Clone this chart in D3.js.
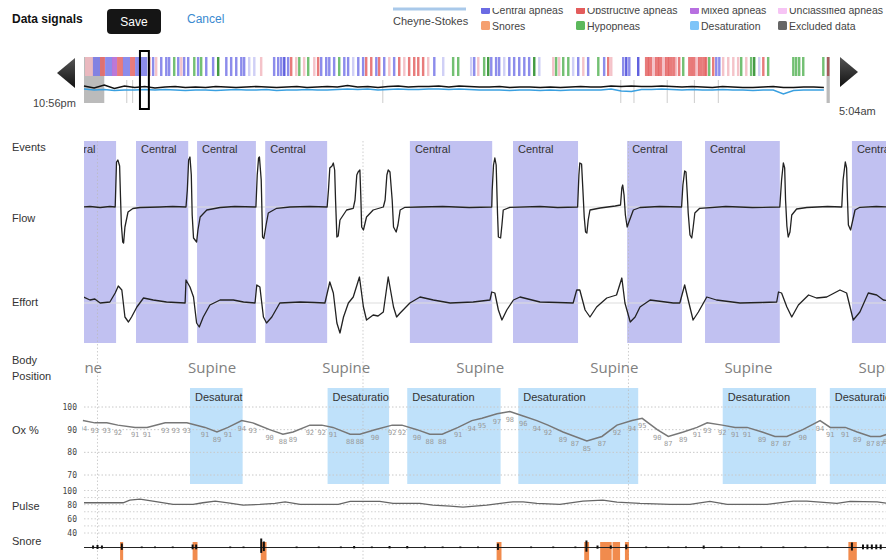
<!DOCTYPE html>
<html>
<head>
<meta charset="utf-8">
<script src="https://cdn.jsdelivr.net/npm/d3@7"></script>
<style>
  body { margin: 0; background: #fff; }
  svg { display: block; font-family: "Liberation Sans", Arial, sans-serif; }
</style>
</head>
<body>
<svg id="chart" width="886" height="560"></svg>
<script>
// ---------- data ----------
var legendTop = ["Central apneas", "Obstructive apneas", "Mixed apneas", "Unclassified apneas"];
var legendBottom = ["Snores", "Hypopneas", "Desaturation", "Excluded data"];
var rowLabels = ["Events", "Flow", "Effort", "Body", "Position", "Ox %", "Pulse", "Snore"];

// overview: minutes after 10:56pm, [start, type, length]
var ovEvents = [
  [0.5,"ol",4],[4.4,"c",3.5],[7.9,"o",2.5],[10.4,"c",3.5],[13.8,"m",2.5],[16.3,"o",3],[19.2,"c",3.5],[22.7,"o",2.5],[25.2,"c",6],
  [31.6,"o"],[33.5,"c"],[35,"ol"],[37.5,"c"],[40,"c"],[41.4,"c"],[43.9,"h"],[45.9,"c"],[47.4,"ol"],[48.8,"c"],[50.8,"c"],
  [53.8,"h"],[55.7,"c"],[57.2,"h"],[59.7,"c"],[63.1,"c"],[65.6,"hd"],[69.6,"c"],[72,"c"],[74.5,"c"],[77,"c"],[78.4,"c"],
  [80.9,"cl"],[83.4,"cl"],[86.8,"ol"],[93.2,"c"],[95.2,"c"],[96.7,"c"],[98.2,"cd"],[100.1,"c"],[101.6,"o"],[104.1,"ol"],
  [105.6,"h"],[108,"ol"],[110,"h"],[113,"ol"],[114.9,"o"],[116.4,"c"],[118.9,"c"],[120.4,"c"],[122.8,"c"],[125.3,"h"],
  [127.8,"c"],[129.7,"c"],[132.2,"cl"],[134.7,"c"],[137.1,"c"],[138.6,"o"],[141.1,"o"],[143.6,"c"],[145,"o"],[147.5,"c"],
  [150,"ol"],[152.4,"c"],[154.9,"o"],[157.4,"ol"],[159.8,"o"],[162.3,"o"],[164.3,"o"],[166.7,"o"],[169.2,"ol"],[172.2,"c"],
  [176.6,"cl"],[181.5,"h"],[184,"h"],[190.4,"cl"],[191.9,"c"],[193.9,"ol"],[196.8,"h"],[198.8,"hd"],[200.3,"c"],[202.7,"c"],
  [204.2,"c"],[206.7,"cl"],[209.2,"c"],[211.6,"c"],[214.1,"c"],[216.6,"c"],[219,"c"],[221.5,"hd"],[224,"cl"],[230.9,"ol"],
  [232.3,"h"],[233.8,"ol"],[235.8,"h"],[238.3,"h"],[240.7,"cl"],[243.2,"c"],[245.7,"ol"],[248.1,"c"],[253.1,"h"],[256,"c"],
  [258,"o"],[259.5,"ol"],[265.4,"c"],[266.9,"cd"],[268.4,"c"],[272.8,"cd"],[276.7,"o",2],[278.2,"o",2],[280.2,"ol",2],
  [281.7,"o",2],[283.2,"o",2],[285.1,"ol",2],[286.6,"o",2],[288.1,"o",2],[290.1,"o",2],[291.5,"ol"],[293,"o"],[295,"h"],
  [298,"o",2],[299.9,"o",2],[301.4,"ol",2],[302.9,"o",2],[304.9,"o",2],[306.3,"o"],[307.8,"h"],[309.8,"o"],[311.3,"c"],
  [312.8,"c"],[314.7,"ol"],[317.2,"ol"],[319.7,"ol"],[322.1,"ol"],[323.6,"h"],[326.1,"ol"],[328.5,"h"],[330,"hd"],
  [332.5,"cl"],[334.5,"o"],[336.9,"h"],[349.3,"h"],[350.7,"h"],[352.2,"h"],[354.2,"h"],[364.1,"h"],[366.5,"od"]
];
var ovExcluded = [[0, 10], [366.3, 1.6]];
var ovMarks = [21.1, 24, 147.4, 264.8, 271.3, 287.7, 301.1, 312.9];
var ovWindow = [27.6, 32];
// overview signal, one value every 5 minutes
var ovFlow = [1,-1,2,-1.5,1,-0.5,0.5,-1,0,0.5,-0.5,0,-0.5,0.5,0,-0.5,0,0.5,0,-0.5,0,0.5,-0.5,0,0.5,0,1.5,0,0.5,-0.5,0.5,1,0,0.5,0.5,1,0,1,0.5,0,0,0.5,-0.5,0,0,-0.5,0,-0.5,0,0.5,0,0,1,0.5,1,0.5,0.5,1,0.5,0,0.5,0,-0.5,0.5,0,-0.5,-0.5,0,0.5,-0.5,-0.5,0,0,-0.5];
var ovSat = [-2,-3,-2.5,-3.5,-3,-3,-2.5,-3,-2.5,-3,-3.5,-3,-3,-3.5,-3,-2.5,-3,-3,-2.5,-3.5,-3,-3,-2.5,-3,-3,-2.5,-2,-2.5,-2,-3,-2.5,-2,-2.5,-2.5,-2,-2,-2.5,-2,-2.5,-3,-3,-3,-3.5,-3,-3,-3.5,-3,-3.5,-3,-3,-3,-3,-2,-4,-4.5,-2.5,-2.5,-2,-2.5,-3,-2.5,-3,-3,-2.5,-3,-3,-3.5,-3,-3,-7,-3.5,-3,-3,-3];

// main window: seconds after 11:25:00pm
var minuteTicks = [0, 60, 120, 180];
var minuteLabels = ["11:25pm", "11:26pm", "11:27pm", "11:28pm"];
var centralEvents = [[-9.6, 4.2], [8.7, 20.5], [22.5, 35.8], [37.9, 51.9], [70.6, 89.2], [93.9, 108.6], [119.7, 132.1], [137.3, 154.2], [170.5, 182]];
var desatEvents = [[20.9, 32.8], [52, 65.9], [70, 91.1], [95.1, 122.2], [141.3, 162.4], [165.5, 182]];
var snoreEvents = [[5.1, 5.8], [21.5, 22.6], [36.9, 38.2], [90.2, 91.3], [110, 111.1], [113.6, 116.2], [116.4, 118.1], [119.2, 120.1], [169.7, 171.6]];
var bodyPositions = [-4.4, 25.9, 56.2, 86.5, 116.8, 147.1, 177.4];

var flow = [
  [-4,0],[-1.7,0.5],[0.6,-0.5],[2.8,0.5],[4,0],[4.3,45],[4.6,47],[5,41],[5.2,10],[5.4,-18],[5.7,-35],[5.9,-36],[6.2,-20],[6.9,-5],[8,-1.5],[9.6,-0.5],
  [14.1,0],[17,0.5],[20,0],[20.3,17],[20.6,47],[20.9,50],[21.2,32],[21.4,-8],[21.7,-31],[22.4,-35],[22.7,-23],[23.2,-10],[24.7,-3],[27.7,-0.5],
  [31,0.5],[35.8,0],[36.1,32],[36.4,49],[36.6,50],[37,27],[37.3,-30],[37.6,-31.5],[38.1,-18],[38.6,-6],[40.5,-1.3],[43.5,0],[48,0.5],
  [51.9,0],[52.2,17],[52.5,39],[53,41],[53.3,44],[53.6,37],[53.8,7],[54.1,-30],[54.4,-29],[54.8,-13],[56.3,-3],[57.8,-1.3],
  [58.2,7],[58.6,32],[58.9,35],[59.3,37],[59.5,12],[59.7,-20],[60.1,-23],[60.8,-10],[62.3,-3],[64.6,0],
  [65,7],[65.4,32],[65.7,37],[66.1,35],[66.6,7],[66.9,-20],[67.5,-25],[67.9,-18],[68.4,-3],[69.5,-0.3],[72.9,0],[78,0.5],[84,-0.5],
  [89.1,0],[89.2,17],[89.5,42],[89.8,49],[90.1,42],[90.4,-6],[90.6,-30],[91.1,-31],[91.4,-18],[91.7,-3],[93.2,-0.3],[100,0.5],[104,-0.5],
  [108.5,0],[108.8,32],[109,44],[109.4,43],[109.7,17],[110,-10],[110.3,-25],[110.6,-26],[110.9,-13],[111.3,-3],[113.6,-1],[117,1],
  [118.2,2],[118.5,19],[118.7,22],[119,12],[119.3,-8],[119.7,-20],[120.1,-15],[121.1,-3],[122.6,-0.5],[127,0.5],
  [132,0],[132.3,22],[132.7,36],[133,35],[133.3,12],[133.5,-6],[133.9,-28],[134.3,-31],[134.6,-21],[135,-6],[136.1,-1.3],[142,0.5],[148,-0.5],
  [154.2,0],[154.6,27],[155,44],[155.3,39],[155.5,7],[155.8,-19],[156.1,-30],[156.5,-25],[156.9,-8],[158,-2],[160.3,-0.5],[165,0.5],
  [168.2,0],[168.5,27],[169,45],[169.3,39],[169.5,7],[169.7,-18],[170.2,-23],[170.6,-15],[171.2,-3],[172.3,-0.3],[176,0.5],[179,0]
];
var effort = [
  [-4,6],[-3.2,6],[-1.7,3],[-0.6,4],[0.6,0],[2.8,1],[4,10],[4.7,17],[5.5,13],[6.2,-14],[7,-19],[7.7,-14],[8.9,-4],[10.4,5],[12.6,3],[15.6,1],
  [19.8,0],[20,23],[20.9,16],[21.7,6],[22.4,-20],[23,-24],[23.9,-14],[25.4,-2],[27.7,3],[30.7,3],[33,1],
  [35.6,0],[36,18],[36.7,16],[37.5,-14],[38.2,-20],[39.4,-14],[41.2,0],[45.8,1],[49,0.5],
  [51.4,0],[52.5,21],[53.3,10],[54.1,-20],[54.8,-30],[55.6,-14],[56.7,0],[57.8,6],[59.2,26],[60.1,-4],[60.8,-17],[62.3,-12],
  [63.4,-13],[64.6,-9],[65.7,26],[66.9,-4],[67.6,-14],[68.4,-10],[70.6,0],[72.9,6],[75.9,3],[79.7,0],[84.9,1],
  [88.7,3],[89.1,11],[89.8,10],[90.6,-7],[91.4,-17],[92.5,-7],[94,3],[95.5,6],[100,1],[104,0.5],
  [107.5,0],[108.3,13],[109,13],[110.2,-7],[111.3,-14],[112.8,-4],[115.1,5],[117.3,8],[118.5,25],[119.2,0],[120.4,-19],
  [121.5,-14],[122.6,-4],[124.9,3],[130.1,0],[131.6,0],[132.7,18],[133.5,3],[134.6,-17],[135.8,-9],[137.7,6],[139.9,3],
  [145.2,0],[150,0.5],[153.5,1],[153.9,11],[154.6,10],[155.8,-4],[156.9,-14],[158.4,-2],[160.7,8],[162.5,5],[164.8,6],
  [167.8,13],[169.3,10],[170.8,-17],[172.3,-9],[174.2,10],[176.1,8],[177.6,3],[179,2]
];
var oxSat = [
  [-3.3,94],[-0.6,93],[2.1,93],[4.6,92],[8.5,91],[11.2,91],[15.3,93],[17.7,93],[20.2,93],[24.3,91],[27,89],[29.5,91],
  [32.6,94],[35.1,93],[38.9,90],[41.9,88],[44.2,89],[48,92],[50.7,92],[53.2,91],[57.1,88],[59.3,88],[62.7,90],[66.6,92],
  [68.8,92],[72.2,90],[75.1,88],[77.9,88],[81.5,91],[84.6,94],[86.9,95],[90.3,97],[93.2,98],[96.2,96],[99.3,94],[101.8,92],
  [105.2,89],[107.9,87],[110.6,85],[114,87],[117.4,92],[120.8,94],[123.1,95],[126.5,90],[129,87],[132.4,89],[135.5,91],
  [137.8,93],[141.2,92],[144.1,91],[146.8,91],[150.2,89],[153.1,87],[155.8,87],[159.4,90],[163.3,94],[165.6,91],[169,91],
  [171.7,89],[174.7,87],[176.9,87],[178.5,88]
];
var pulse = [
  [-3.3,82.7],[5.8,82.7],[7.3,86.5],[9.6,87.9],[12.5,85],[17.1,80.4],[21.6,80.4],[23.8,82.7],[26.6,85],[29.9,82.2],
  [32.9,79.4],[36.7,80.4],[40.1,81.8],[42.4,84],[45.8,80.4],[54.4,80.4],[57.1,84.6],[63.8,84.6],[66.8,81.8],[72.9,81.8],
  [75.8,79.4],[79.7,78],[82.6,76.6],[88,79.4],[93.9,84],[96.2,84],[99.3,81.8],[104.5,80.4],[109.7,85],[114.2,86.5],
  [117.4,83.6],[122.6,81.8],[129.4,80.4],[133.9,80.4],[138.4,84.6],[142.3,80.4],[151.3,80.4],[157.2,85],[160.3,85],[167.1,81.8],
  [170.1,84.6],[176.2,84],[178.5,81.8]
];
// snore microphone blips: [second, amplitude]
var snore = [
  [-1,2],[0,2.5],[1,2],[5.5,4],[10,1],[13,1],[17,1],[21.5,3],[22.3,3],[30,1],[33,1],[37,9],[37.6,6],[45,1],[50,1],
  [55,1],[58,1.5],[62,1],[66,1.5],[70,1.5],[74,1],[78,1],[82,1],[86,1],[90.5,4],[98,1],[103,1],[108,1],[110.5,7],
  [113,2],[116,2],[119.5,3],[124,1],[129,1],[133,1],[137,2],[141,1],[145,1],[150,1],[155,1],[160,1],[165,1],[170.5,5],
  [173,3],[174,3],[175,3],[176,3],[177,3]
];

// ---------- colours ----------
var legendTopColors = ["#6b6be3", "#e35c5c", "#b76fe0", "#f6c4f4"];
var legendBottomColors = ["#f5a070", "#5cb85c", "#7ec4f8", "#666"];
var ovColors = { c: "#7878e8", cd: "#4444d8", cl: "#c8c8f4", o: "#e46464", od: "#a04848", ol: "#f2b8c0", m: "#b060d0", h: "#5ab55a", hd: "#238a23" };

var svg = d3.select("#chart");
var defs = svg.append("defs");

// ---------- header ----------
svg.append("text").attr("x", 12).attr("y", 23).attr("font-size", 12).attr("font-weight", "bold").attr("fill", "#111").text("Data signals");
svg.append("rect").attr("x", 107).attr("y", 9).attr("width", 54).attr("height", 25).attr("rx", 4).attr("fill", "#151515");
svg.append("text").attr("x", 134).attr("y", 26).attr("text-anchor", "middle").attr("font-size", 12).attr("fill", "#fff").text("Save");
svg.append("text").attr("x", 187).attr("y", 23).attr("font-size", 12).attr("fill", "#3a8ad0").text("Cancel");

svg.append("line").attr("x1", 393).attr("x2", 466).attr("y1", 9).attr("y2", 9).attr("stroke", "#a9c9ea").attr("stroke-width", 3);
svg.append("text").attr("x", 393).attr("y", 25).attr("font-size", 11).attr("fill", "#444").text("Cheyne-Stokes");

defs.append("clipPath").attr("id", "legendClip").append("rect").attr("x", 470).attr("y", 8).attr("width", 416).attr("height", 30);
var legX = [481, 576, 690, 778];
var legG = svg.append("g").attr("clip-path", "url(#legendClip)");
[[legendTop, legendTopColors, 14], [legendBottom, legendBottomColors, 30]].forEach(function (row) {
  var g = legG.selectAll(null).data(row[0]).enter().append("g")
    .attr("transform", function (d, i) { return "translate(" + legX[i] + "," + row[2] + ")"; });
  g.append("rect").attr("x", 0).attr("y", -9).attr("width", 9).attr("height", 9).attr("rx", 1.5)
    .attr("fill", function (d, i) { return row[1][i]; });
  g.append("text").attr("x", 11).attr("y", 0).attr("font-size", 10.5).attr("fill", "#444").text(function (d) { return d; });
});

// ---------- overview strip ----------
var xo = d3.scaleLinear().domain([0, 368]).range([84, 830]);
var ys = d3.scaleLinear().domain([-10, 10]).range([97, 77]);

svg.append("g").selectAll("rect").data(ovExcluded).enter().append("rect")
  .attr("x", function (d) { return xo(d[0]); }).attr("width", function (d) { return xo(d[0] + d[1]) - xo(d[0]); })
  .attr("y", 57).attr("height", 46).attr("fill", "#bbb");
svg.append("g").selectAll("line").data(ovMarks).enter().append("line")
  .attr("x1", function (d) { return xo(d); }).attr("x2", function (d) { return xo(d); })
  .attr("y1", 80).attr("y2", 103).attr("stroke", "#ccc").attr("stroke-width", 1);
svg.append("g").selectAll("rect").data(ovEvents).enter().append("rect")
  .attr("x", function (d) { return xo(d[0]); })
  .attr("width", function (d) { return xo(d[0] + (d[2] || 1.2)) - xo(d[0]); })
  .attr("y", 57).attr("height", 19)
  .attr("fill", function (d) { return ovColors[d[1]]; })
  .attr("opacity", 0.85);

var ovLine = function (vals) {
  return d3.line().x(function (d, i) { return xo(i * 5); }).y(function (d) { return ys(d); }).curve(d3.curveLinear)(vals);
};
svg.append("path").attr("d", ovLine(ovSat)).attr("fill", "none").attr("stroke", "#3aa0e0").attr("stroke-width", 1.5);
svg.append("path").attr("d", ovLine(ovFlow)).attr("fill", "none").attr("stroke", "#111").attr("stroke-width", 1.6);

svg.append("rect").attr("x", xo(ovWindow[0])).attr("y", 51).attr("width", xo(ovWindow[1]) - xo(ovWindow[0])).attr("height", 58)
  .attr("fill", "none").attr("stroke", "#000").attr("stroke-width", 2);

var arrowGrad = defs.append("linearGradient").attr("id", "arrowGrad").attr("x1", 0).attr("y1", 0).attr("x2", 0).attr("y2", 1);
arrowGrad.append("stop").attr("offset", "0%").attr("stop-color", "#555");
arrowGrad.append("stop").attr("offset", "100%").attr("stop-color", "#111");
svg.append("path").attr("d", "M57,73L75,58L75,88Z").attr("fill", "url(#arrowGrad)");
svg.append("path").attr("d", "M858,72L840,57L840,87Z").attr("fill", "url(#arrowGrad)");
svg.append("text").attr("x", 33).attr("y", 107).attr("font-size", 11).attr("fill", "#444").text("10:56pm");
svg.append("text").attr("x", 839).attr("y", 115).attr("font-size", 11).attr("fill", "#444").text("5:04am");

// ---------- main panels ----------
var x = d3.scaleLinear().domain([-3.05, 178.2]).range([84, 886]);
var yFlow = d3.scaleLinear().domain([-50, 50]).range([257, 157]);
var yEffort = d3.scaleLinear().domain([-50, 50]).range([353, 253]);
var yOx = d3.scaleLinear().domain([70, 100]).range([475, 407]);
var yPulse = d3.scaleLinear().domain([40, 100]).range([533, 490.5]);
var snoreBase = 547.5;

defs.append("clipPath").attr("id", "plotClip").append("rect").attr("x", 84).attr("y", 120).attr("width", 802).attr("height", 440);
defs.append("clipPath").attr("id", "oxClip").append("rect").attr("x", 82).attr("y", 380).attr("width", 804).attr("height", 110);

// row labels
var labelY = [151, 222, 306, 364, 380, 434, 510, 545];
svg.append("g").selectAll("text").data(rowLabels).enter().append("text")
  .attr("x", 12).attr("y", function (d, i) { return labelY[i]; })
  .attr("font-size", 11).attr("fill", "#333").text(function (d) { return d; });

// time axis
var axisG = svg.append("g").attr("transform", "translate(0,140)").attr("clip-path", "url(#plotClip)");
var axisTicks = d3.range(0, 181, 5);
axisG.call(d3.axisTop(x).tickValues(axisTicks).tickSize(3).tickPadding(1)
  .tickFormat(function (d) { var k = minuteTicks.indexOf(d); return k < 0 ? "" : minuteLabels[k]; }));
axisG.select(".domain").attr("stroke", "#aaa");
axisG.selectAll(".tick line").attr("stroke", "#999");
axisG.selectAll(".tick text").attr("font-family", "'Liberation Mono', monospace").attr("font-size", 9.5).attr("fill", "#333");

var plot = svg.append("g").attr("clip-path", "url(#plotClip)");

// event rectangles with clipped labels
function eventBand(list, cls, fill, y0, y1, label, ty) {
  var g = plot.append("g");
  list.forEach(function (d, i) {
    defs.append("clipPath").attr("id", cls + i).append("rect")
      .attr("x", x(d[0])).attr("y", y0).attr("width", x(d[1]) - x(d[0])).attr("height", y1 - y0);
  });
  g.selectAll("rect").data(list).enter().append("rect")
    .attr("x", function (d) { return x(d[0]); }).attr("width", function (d) { return x(d[1]) - x(d[0]); })
    .attr("y", y0).attr("height", y1 - y0).attr("fill", fill);
  g.selectAll("text").data(list).enter().append("text")
    .attr("clip-path", function (d, i) { return "url(#" + cls + i + ")"; })
    .attr("x", function (d) { return x(d[0]) + 5; }).attr("y", ty)
    .attr("font-size", 11).attr("fill", "#333").text(label);
}
eventBand(centralEvents, "cen", "#c1c1f1", 141, 343, "Central", 153);
eventBand(desatEvents, "des", "#bfe1fa", 388, 484, "Desaturation", 401);

// baselines
plot.append("line").attr("x1", 84).attr("x2", 886).attr("y1", yFlow(0)).attr("y2", yFlow(0)).attr("stroke", "#ddd");
plot.append("line").attr("x1", 84).attr("x2", 886).attr("y1", yEffort(0)).attr("y2", yEffort(0)).attr("stroke", "#ddd");

// horizontal dotted grids
plot.append("g").selectAll("line").data([100, 90, 80, 70]).enter().append("line")
  .attr("x1", 84).attr("x2", 886).attr("y1", function (d) { return yOx(d); }).attr("y2", function (d) { return yOx(d); })
  .attr("stroke", "#c8c8c8").attr("stroke-dasharray", "1.5,2");
plot.append("g").selectAll("line").data([100, 90, 80, 70, 60, 50, 40]).enter().append("line")
  .attr("x1", 84).attr("x2", 886).attr("y1", function (d) { return yPulse(d); }).attr("y2", function (d) { return yPulse(d); })
  .attr("stroke", "#d0d0d0").attr("stroke-dasharray", "1.5,2");

// minute grid
plot.append("g").selectAll("line").data(minuteTicks).enter().append("line")
  .attr("x1", function (d) { return x(d); }).attr("x2", function (d) { return x(d); })
  .attr("y1", 141).attr("y2", 560).attr("stroke", "#bbb").attr("stroke-dasharray", "1.5,2").attr("opacity", 0.7);

// y tick labels
var tickFont = "'DejaVu Sans Mono', monospace";
var oxAxis = svg.append("g").attr("transform", "translate(77,0)")
  .call(d3.axisLeft(yOx).tickValues([100, 90, 80, 70]).tickSize(0).tickPadding(0));
var pulseAxis = svg.append("g").attr("transform", "translate(77,0)")
  .call(d3.axisLeft(yPulse).tickValues([100, 80, 60, 40]).tickSize(0).tickPadding(0));
[oxAxis, pulseAxis].forEach(function (a) {
  a.select(".domain").remove();
  a.selectAll("text").attr("font-family", tickFont).attr("font-size", 8).attr("fill", "#444");
});

// flow & effort
var sigLine = function (ys) {
  return d3.line().x(function (d) { return x(d[0]); }).y(function (d) { return ys(d[1]); });
};
plot.append("path").attr("d", sigLine(yFlow)(flow)).attr("fill", "none").attr("stroke", "#222").attr("stroke-width", 1.3).attr("stroke-linejoin", "round");
plot.append("path").attr("d", sigLine(yEffort)(effort)).attr("fill", "none").attr("stroke", "#222").attr("stroke-width", 1.3).attr("stroke-linejoin", "round");

// body position
plot.append("g").selectAll("text").data(bodyPositions).enter().append("text")
  .attr("x", function (d) { return x(d); }).attr("y", 373).attr("text-anchor", "middle")
  .attr("font-family", "'Open Sans', sans-serif").attr("font-size", 15).attr("fill", "#808080").text("Supine");

// oxygen saturation
var oxG = svg.append("g").attr("clip-path", "url(#oxClip)");
oxG.append("path").attr("d", sigLine(yOx)(oxSat)).attr("fill", "none").attr("stroke", "#777").attr("stroke-width", 1.5);
oxG.selectAll("text").data(oxSat).enter().append("text")
  .attr("x", function (d) { return x(d[0]); }).attr("y", function (d) { return yOx(d[1]) + 10; })
  .attr("text-anchor", "middle").attr("font-family", tickFont).attr("font-size", 7).attr("fill", "#999")
  .text(function (d) { return d[1]; });

// pulse
plot.append("path").attr("d", sigLine(yPulse)(pulse)).attr("fill", "none").attr("stroke", "#666").attr("stroke-width", 1.3);

// snore
plot.append("g").selectAll("rect").data(snoreEvents).enter().append("rect")
  .attr("x", function (d) { return x(d[0]); }).attr("width", function (d) { return x(d[1]) - x(d[0]); })
  .attr("y", 542).attr("height", 18).attr("fill", "#ef7e3a").attr("opacity", 0.9);
plot.append("line").attr("x1", 84).attr("x2", 886).attr("y1", snoreBase).attr("y2", snoreBase).attr("stroke", "#222").attr("stroke-width", 1);
plot.append("g").selectAll("line").data(snore).enter().append("line")
  .attr("x1", function (d) { return x(d[0]); }).attr("x2", function (d) { return x(d[0]); })
  .attr("y1", function (d) { return snoreBase - d[1]; }).attr("y2", function (d) { return snoreBase + d[1] * 0.6; })
  .attr("stroke", "#111").attr("stroke-width", 2);
</script>
</body>
</html>
